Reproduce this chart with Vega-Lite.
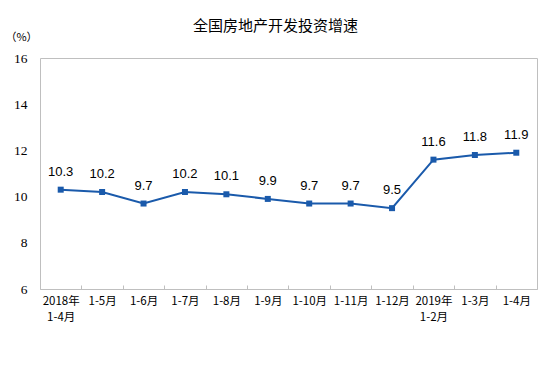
{
  "$schema": "https://vega.github.io/schema/vega-lite/v6.json",
  "autosize": "none",
  "width": 497,
  "height": 231,
  "padding": {"left": 40, "top": 58, "right": 17, "bottom": 78},
  "background": "white",
  "config": {"view": {"stroke": "#bfbfbf", "strokeWidth": 1}},
  "title": {"text": "全国房地产开发投资增速", "font": "Noto Sans CJK SC", "fontSize": 15, "fontWeight": "normal", "color": "#000000", "anchor": "middle", "dx": -13, "offset": -3},
  "data": {"values": [
    {"period": "2018年|1-4月", "value": 10.3},
    {"period": "1-5月", "value": 10.2},
    {"period": "1-6月", "value": 9.7},
    {"period": "1-7月", "value": 10.2},
    {"period": "1-8月", "value": 10.1},
    {"period": "1-9月", "value": 9.9},
    {"period": "1-10月", "value": 9.7},
    {"period": "1-11月", "value": 9.7},
    {"period": "1-12月", "value": 9.5},
    {"period": "2019年|1-2月", "value": 11.6},
    {"period": "1-3月", "value": 11.8},
    {"period": "1-4月", "value": 11.9}
  ]},
  "encoding": {
    "x": {"field": "period", "type": "nominal", "sort": null,
      "scale": {"paddingInner": 0, "paddingOuter": 0},
      "axis": {"title": null, "labelAngle": 0, "domain": false, "ticks": true, "tickBand": "extent", "tickSize": -4, "tickColor": "#bfbfbf",
        "labelExpr": "datum.value ? split(datum.value, '|') : ''", "labelFont": "Noto Sans CJK SC", "labelFontSize": 11.5, "labelColor": "#000000", "labelPadding": 10, "labelLineHeight": 16, "labelBaseline": "top"}},
    "y": {"field": "value", "type": "quantitative",
      "scale": {"domain": [6, 16], "nice": false, "zero": false},
      "axis": {"values": [6, 8, 10, 12, 14, 16], "grid": false, "domain": false, "ticks": false, "labelPadding": 13,
        "labelFont": "Liberation Serif", "labelFontSize": 13.5, "labelColor": "#000000",
        "title": "（%）", "titleAngle": 0, "titleX": -19, "titleY": -21, "titleAlign": "center", "titleBaseline": "middle",
        "titleFont": "Noto Sans CJK SC", "titleFontSize": 11, "titleFontWeight": "normal", "titleColor": "#000000"}}
  },
  "layer": [
    {"mark": {"type": "line", "color": "#1a5aab", "strokeWidth": 2}},
    {"mark": {"type": "point", "shape": "square", "filled": true, "size": 36, "color": "#1a5aab", "opacity": 1}},
    {"mark": {"type": "text", "dy": -18, "baseline": "middle", "font": "Liberation Sans", "fontSize": 13, "color": "#000000"},
      "encoding": {"text": {"field": "value", "type": "quantitative", "format": ".1f"}}}
  ]
}
